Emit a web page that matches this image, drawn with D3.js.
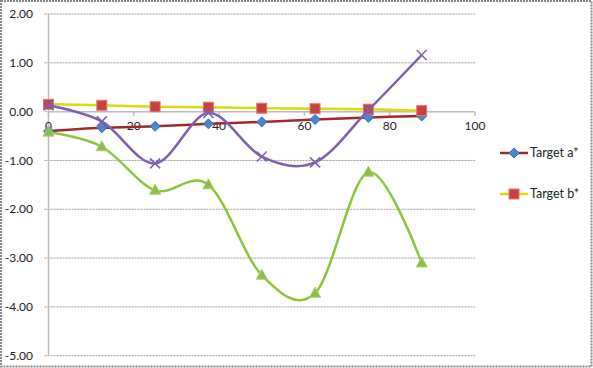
<!DOCTYPE html>
<html><head><meta charset="utf-8">
<script src="https://cdn.jsdelivr.net/npm/d3@7"></script>
<style>body{margin:0;background:#fff}svg{display:block}text{font-family:Lato,"Open Sans",sans-serif;fill:#222}</style>
</head><body>
<script>
const xValues = [0, 12.5, 25, 37.5, 50, 62.5, 75, 87.5];
const targetA = [-0.40, -0.33, -0.30, -0.25, -0.21, -0.16, -0.12, -0.09];
const targetB = [0.15, 0.13, 0.10, 0.09, 0.07, 0.06, 0.05, 0.02];
const series3 = [0.13, -0.20, -1.06, -0.03, -0.92, -1.04, 0.03, 1.16];
const series4 = [-0.42, -0.72, -1.61, -1.50, -3.35, -3.72, -1.24, -3.10];
const xTicks = [0, 20, 40, 60, 80, 100];
const yTicks = [2, 1, 0, -1, -2, -3, -4, -5];
const legendNames = ["Target a*", "Target b*"];

const W = 593, H = 368;
const svg = d3.select("body").append("svg").attr("width", W).attr("height", H);
svg.append("rect").attr("x",1).attr("y",1).attr("width",W-2.5).attr("height",H-2.5)
  .attr("fill","#fff").attr("stroke","#888").attr("stroke-width",2).attr("stroke-dasharray","2,1");

const x = d3.scaleLinear().domain([0,100]).range([48.5,475]);
const y = d3.scaleLinear().domain([-5,2]).range([355.7,14]);

// gridlines
svg.append("g").selectAll("line").data(yTicks).join("line")
  .attr("x1",x(0)-4).attr("x2",x(100)).attr("y1",d=>y(d)).attr("y2",d=>y(d))
  .attr("stroke","#9a9a9a").attr("stroke-width",1).attr("stroke-dasharray","2,1");
// y axis
svg.append("line").attr("x1",x(0)).attr("x2",x(0)).attr("y1",y(2)).attr("y2",y(-5))
  .attr("stroke","#bbb").attr("stroke-width",1.5);
// x axis at y=0
svg.append("line").attr("x1",x(0)).attr("x2",x(100)).attr("y1",y(0)).attr("y2",y(0))
  .attr("stroke","#bbb").attr("stroke-width",1.5);
svg.append("g").selectAll("line").data(xTicks).join("line")
  .attr("x1",d=>x(d)).attr("x2",d=>x(d)).attr("y1",y(0)).attr("y2",y(0)+4)
  .attr("stroke","#bbb").attr("stroke-width",1.5);

svg.append("g").selectAll("text").data(yTicks).join("text")
  .attr("x",33).attr("y",d=>y(d)).attr("dy","0.35em").attr("text-anchor","end")
  .attr("font-size",12).text(d=>d.toFixed(2));
svg.append("g").selectAll("text").data(xTicks).join("text")
  .attr("x",d=>x(d)).attr("y",y(0)+18.5).attr("text-anchor","middle")
  .attr("font-size",12).text(d=>d);

const curve = d3.curveCardinal.tension(0);
function line(vals){ return d3.line().x((d,i)=>x(xValues[i])).y(d=>y(d)).curve(curve)(vals); }

function drawMarker(g, type, cx, cy){
  if(type==="diamond"){
    g.append("path").attr("d","M0,-5L5,0L0,5L-5,0Z").attr("transform",`translate(${cx},${cy})`)
      .attr("fill","#4A86C8").attr("stroke","#3A70B0").attr("stroke-width",1);
  } else if(type==="square"){
    g.append("rect").attr("x",cx-5).attr("y",cy-5).attr("width",10).attr("height",10)
      .attr("fill","#C9403F").attr("stroke","#E07878").attr("stroke-width",1);
  } else if(type==="x"){
    g.append("path").attr("d","M-5,-5L5,5M-5,5L5,-5").attr("transform",`translate(${cx},${cy})`)
      .attr("stroke","#7E5FB0").attr("stroke-width",1.5).attr("fill","none");
  } else if(type==="tri"){
    g.append("path").attr("d","M0,-6L5.5,4L-5.5,4Z").attr("transform",`translate(${cx},${cy})`)
      .attr("fill","#8DBB4C").attr("stroke","#A8D070").attr("stroke-width",1);
  }
}

const seriesDefs = [
  {vals: targetA, color:"#A0292C", marker:"diamond", w:2.5},
  {vals: targetB, color:"#DADA10", marker:"square", w:2.5},
  {vals: series3, color:"#7E5FAF", marker:"x", w:2.5},
  {vals: series4, color:"#8CC43E", marker:"tri", w:2.5}
];
seriesDefs.forEach(s=>{
  const g = svg.append("g");
  g.append("path").attr("d", line(s.vals)).attr("fill","none").attr("stroke",s.color).attr("stroke-width",s.w);
  s.vals.forEach((v,i)=>drawMarker(g, s.marker, x(xValues[i]), y(v)));
});

// legend
const legY = [153, 194];
const legColors = ["#A0292C", "#DADA10"];
const legMarkers = ["diamond", "square"];
legendNames.forEach((n,i)=>{
  const g = svg.append("g");
  g.append("line").attr("x1",500).attr("x2",528).attr("y1",legY[i]).attr("y2",legY[i])
    .attr("stroke",legColors[i]).attr("stroke-width",2.5);
  drawMarker(g, legMarkers[i], 514, legY[i]);
  g.append("text").attr("x",530).attr("y",legY[i]).attr("dy","0.35em").attr("font-size",12.5).text(n);
});
</script>
</body></html>
